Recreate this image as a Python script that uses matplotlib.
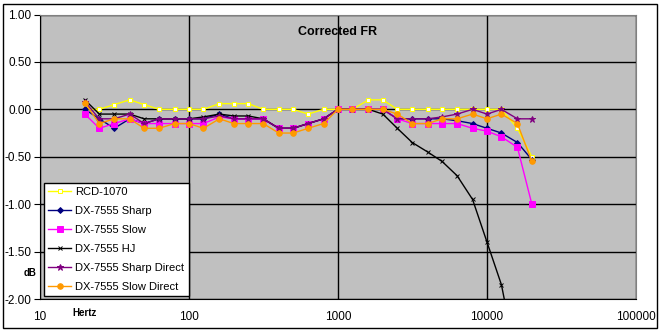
import matplotlib.pyplot as plt
import matplotlib.patches as patches
from matplotlib.ticker import FixedLocator, NullLocator

plt.rcParams['font.family'] = ['Liberation Sans', 'DejaVu Sans']

# 1/3 octave frequencies (Hz)
freqs = [20, 25, 31.5, 40, 50, 63, 80, 100, 125, 160, 200, 250, 315, 400, 500, 630,
         800, 1000, 1250, 1600, 2000, 2500, 3150, 4000, 5000, 6300, 8000, 10000,
         12500, 16000, 20000]

rcd_1070 = [0.0, 0.0, 0.05, 0.1, 0.05, 0.0, 0.0, 0.0, 0.0, 0.06, 0.06, 0.06, 0.0, 0.0,
            0.0, -0.05, 0.0, 0.0, 0.0, 0.1, 0.1, 0.0, 0.0, 0.0, 0.0, 0.0, 0.0, 0.0,
            0.0, -0.2, -0.5]
dx_sharp = [0.0, -0.1, -0.2, -0.1, -0.15, -0.1, -0.1, -0.1, -0.1, -0.05, -0.1, -0.1,
            -0.1, -0.2, -0.2, -0.15, -0.1, 0.0, 0.0, 0.0, 0.0, -0.1, -0.1, -0.1, -0.1,
            -0.12, -0.15, -0.2, -0.25, -0.35, -0.53]
dx_slow = [-0.05, -0.2, -0.15, -0.1, -0.15, -0.15, -0.15, -0.15, -0.15, -0.08, -0.1,
           -0.1, -0.1, -0.2, -0.2, -0.15, -0.1, 0.0, 0.0, 0.0, 0.0, -0.1, -0.15, -0.15,
           -0.15, -0.15, -0.2, -0.23, -0.29, -0.4, -1.0]
dx_hj = [0.1, -0.05, -0.05, -0.05, -0.1, -0.1, -0.1, -0.1, -0.08, -0.05, -0.07, -0.07,
         -0.1, -0.2, -0.2, -0.15, -0.1, 0.0, 0.0, 0.0, -0.05, -0.2, -0.35, -0.45, -0.55,
         -0.7, -0.95, -1.4, -1.85, -2.7, -3.5]
dx_sharp_direct = [0.08, -0.1, -0.1, -0.05, -0.15, -0.1, -0.1, -0.1, -0.1, -0.07, -0.1,
                   -0.1, -0.1, -0.2, -0.2, -0.15, -0.1, 0.0, 0.0, 0.0, 0.0, -0.1, -0.1,
                   -0.1, -0.08, -0.05, 0.0, -0.05, 0.0, -0.1, -0.1]
dx_slow_direct = [0.07, -0.15, -0.1, -0.1, -0.2, -0.2, -0.15, -0.15, -0.2, -0.1, -0.15,
                  -0.15, -0.15, -0.25, -0.25, -0.2, -0.15, 0.0, 0.0, 0.0, 0.0, -0.05,
                  -0.15, -0.15, -0.1, -0.1, -0.05, -0.1, -0.05, -0.15, -0.55]

y_ticks = [1.0, 0.5, 0.0, -0.5, -1.0, -1.5, -2.0]
x_ticks = [10, 100, 1000, 10000, 100000]

W, H = 661, 331
fig = plt.figure(figsize=(W / 100, H / 100), dpi=100)
ax = fig.add_axes([40 / W, 1 - 299 / H, (636 - 40) / W, (299 - 14.5) / H])
ax.set_facecolor('#c0c0c0')

# series: label, data, color, marker, marker face, size
series = [
    ('RCD-1070', rcd_1070, '#ffff00', 's', 'white', 3.5),
    ('DX-7555 Sharp', dx_sharp, '#000080', 'D', '#000080', 3),
    ('DX-7555 Slow', dx_slow, '#ff00ff', 's', '#ff00ff', 4),
    ('DX-7555 HJ', dx_hj, '#000000', 'x', '#000000', 3),
    ('DX-7555 Sharp Direct', dx_sharp_direct, '#800080', '*', '#800080', 4.5),
    ('DX-7555 Slow Direct', dx_slow_direct, '#ff9900', 'o', '#ff9900', 4),
]
for name, vals, c, m, mf, ms in series:
    ax.plot(freqs, vals, color=c, lw=1, marker=m, ms=ms, mfc=mf, mec=c,
            mew=0.7, label=name, zorder=3)

ax.set_xscale('log')
ax.set_xlim(10, 100000)
ax.set_ylim(-2.0, 1.0)
ax.xaxis.set_major_locator(FixedLocator(x_ticks))
ax.xaxis.set_minor_locator(NullLocator())
ax.set_xticklabels([str(t) for t in x_ticks])
ax.set_yticks(y_ticks)
ax.set_yticklabels(['%.2f' % t for t in y_ticks])
ax.grid(True, color='black', lw=1, zorder=1)
ax.set_axisbelow(True)
ax.tick_params(axis='x', length=0, pad=9, labelsize=8.5)
ax.tick_params(axis='y', length=4, direction='out', labelsize=8.5, pad=2)
for s in ['top', 'right']:
    ax.spines[s].set_color('#808080')
for s in ['left', 'bottom']:
    ax.spines[s].set_color('black')

ax.text(0.5, 0.94, 'Corrected FR', transform=ax.transAxes, ha='center', va='center',
        fontsize=9, fontweight='bold')
fig.text(30 / W, 1 - 273 / H, 'dB', ha='center', va='center', fontsize=7, fontweight='bold')
fig.text(85 / W, 1 - 313 / H, 'Hertz', ha='center', va='center', fontsize=7, fontweight='bold')

leg = ax.legend(loc='lower left', bbox_to_anchor=(4 / 596, 3 / 284.5), fontsize=8,
                frameon=True, fancybox=False, edgecolor='black', framealpha=1,
                borderpad=0.4, labelspacing=0.8, handlelength=2.0, handletextpad=0.4,
                borderaxespad=0)
leg.get_frame().set_linewidth(1)

# outer chart border
fig.patches.append(patches.Rectangle((3 / W, 3 / H), 654 / W, 324 / H, transform=fig.transFigure,
                                     fill=False, edgecolor='black', lw=1))

fig.savefig('out.png', dpi=100)
